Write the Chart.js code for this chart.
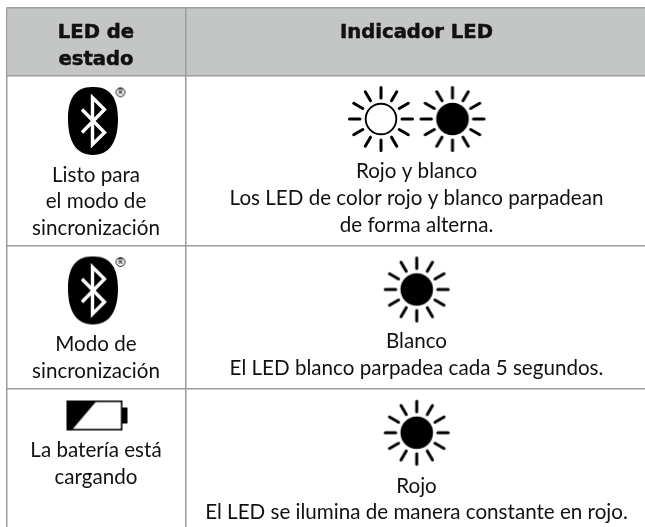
<!DOCTYPE html>
<html>
<head>
<meta charset="utf-8">
<title>LED de estado</title>
<style>
  body { margin: 0; background: #fff; }
  canvas { display: block; }
</style>
<script src="https://cdn.jsdelivr.net/npm/chart.js@4"></script>
</head>
<body>
<canvas id="led-chart" width="645" height="527"></canvas>
<script>
// table borders
var columnEdges = [7.2, 185.7];
var rowEdges = [7.5, 75.5, 245.5, 389];
var tableRight = 645;
var tableBottom = 527;

// header + cell text
var headerLines = ["LED de", "estado", "Indicador LED"];
var headerX = [96, 96, 416.5];
var headerY = [38, 64.5, 37.5];

var bodyLines = [
  "Listo para", "el modo de", "sincronización",
  "Modo de", "sincronización",
  "La batería está", "cargando",
  "Rojo y blanco", "Los LED de color rojo y blanco parpadean", "de forma alterna.",
  "Blanco", "El LED blanco parpadea cada 5 segundos.",
  "Rojo", "El LED se ilumina de manera constante en rojo."
];
var bodyX = [96, 96, 96, 96, 96, 96, 96, 416.5, 416.5, 416.5, 416.5, 416.5, 416.5, 416.5];
var bodyY = [181.5, 208, 235, 350.5, 377.5, 457, 484, 178, 205, 231.5, 348, 375, 492.5, 518.5];

// icons in the cells
var bluetoothPoints = [{ x: 93, y: 121 }, { x: 93, y: 290.5 }];
var registeredPoints = [{ x: 120.5, y: 92.3 }, { x: 120.5, y: 262 }];
var batteryPoints = [{ x: 96.5, y: 415.5 }];
var hollowSunPoints = [{ x: 381, y: 119 }];
var filledSunPoints = [{ x: 452.5, y: 119 }, { x: 416.7, y: 289.5 }, { x: 416.7, y: 432.7 }];

var HEADER_FONT = "700 19.6px 'DejaVu Sans'";
var BODY_FONT = "400 20.6px Lato";
var GRID_COLOR = "#9b9d9c";
var HEADER_COLOR = "#c4c6c5";
var INK = "#111111";

function makeCanvas(w, h) {
  var c = document.createElement("canvas");
  c.width = w;
  c.height = h;
  return c;
}

// sun with 12 rays, filled or only the ring
function makeSun(filled) {
  var c = makeCanvas(70, 70);
  var ctx = c.getContext("2d");
  ctx.translate(35, 35);
  ctx.strokeStyle = "#000";
  ctx.fillStyle = "#000";
  ctx.lineWidth = 3;
  ctx.lineCap = "round";
  for (var i = 0; i < 12; i++) {
    var a = i * Math.PI / 6;
    ctx.beginPath();
    ctx.moveTo(Math.cos(a) * 21, Math.sin(a) * 21);
    ctx.lineTo(Math.cos(a) * 31.5, Math.sin(a) * 31.5);
    ctx.stroke();
  }
  ctx.beginPath();
  if (filled) {
    ctx.arc(0, 0, 16.3, 0, Math.PI * 2);
    ctx.fill();
  } else {
    ctx.lineWidth = 1.9;
    ctx.arc(0, 0, 15.3, 0, Math.PI * 2);
    ctx.stroke();
  }
  return c;
}

// black egg with the white rune
function makeBluetooth() {
  var c = makeCanvas(56, 74);
  var ctx = c.getContext("2d");
  ctx.translate(28, 37);
  ctx.fillStyle = "#000";
  ctx.beginPath();
  ctx.moveTo(0, -34);
  ctx.bezierCurveTo(18, -34.5, 25, -22, 25, -2);
  ctx.bezierCurveTo(25, 20, 17, 34, 0, 34);
  ctx.bezierCurveTo(-17, 34, -25, 20, -25, -2);
  ctx.bezierCurveTo(-25, -22, -18, -34.5, 0, -34);
  ctx.fill();
  ctx.strokeStyle = "#fff";
  ctx.lineWidth = 3.4;
  ctx.lineJoin = "miter";
  ctx.beginPath();
  ctx.moveTo(-11, -11.5);
  ctx.lineTo(11.5, 11.5);
  ctx.lineTo(-0.5, 23.5);
  ctx.lineTo(-0.5, -23.5);
  ctx.lineTo(11.5, -11.5);
  ctx.lineTo(-11, 11.5);
  ctx.stroke();
  return c;
}

function makeBattery() {
  var c = makeCanvas(66, 34);
  var ctx = c.getContext("2d");
  ctx.fillStyle = "#000";
  ctx.strokeStyle = "#000";
  ctx.lineWidth = 1.6;
  ctx.strokeRect(3.8, 2.8, 54.4, 28.4);
  ctx.fillRect(58, 9, 6, 16);
  ctx.beginPath();
  ctx.moveTo(3, 2);
  ctx.lineTo(33.5, 2);
  ctx.lineTo(8, 32);
  ctx.lineTo(3, 32);
  ctx.closePath();
  ctx.fill();
  return c;
}

function makeRegistered() {
  var c = makeCanvas(14, 14);
  var ctx = c.getContext("2d");
  ctx.strokeStyle = "#000";
  ctx.lineWidth = 0.9;
  ctx.beginPath();
  ctx.arc(7, 7, 4.4, 0, Math.PI * 2);
  ctx.stroke();
  ctx.fillStyle = "#000";
  ctx.font = "bold 6.5px Lato";
  ctx.textAlign = "center";
  ctx.textBaseline = "middle";
  ctx.fillText("R", 7, 7.2);
  return c;
}

function pointSet(points, image) {
  return {
    type: "scatter",
    data: points,
    pointStyle: image,
    pointRadius: 10,
    borderWidth: 0,
    clip: false,
    order: 1
  };
}

// cell text goes on top, placed through the scales
var cellText = {
  id: "cellText",
  afterDatasetsDraw: function(chart) {
    var ctx = chart.ctx;
    var xs = chart.scales.x;
    var ys = chart.scales.y;
    ctx.save();
    ctx.textAlign = "center";
    ctx.textBaseline = "alphabetic";
    ctx.fillStyle = INK;
    ctx.strokeStyle = INK;
    ctx.lineWidth = 0.5;
    ctx.font = HEADER_FONT;
    headerLines.forEach(function(line, i) {
      var px = xs.getPixelForValue(headerX[i]);
      var py = ys.getPixelForValue(headerY[i]);
      ctx.fillText(line, px, py);
      // the header is heavier than the bold cut
      ctx.strokeText(line, px, py);
    });
    ctx.font = BODY_FONT;
    bodyLines.forEach(function(line, i) {
      ctx.fillText(line, xs.getPixelForValue(bodyX[i]), ys.getPixelForValue(bodyY[i]));
    });
    ctx.restore();
  }
};

new Chart(document.getElementById("led-chart"), {
  type: "line",
  data: {
    datasets: [
      // grey header band
      {
        data: [{ x: columnEdges[0], y: rowEdges[1] }, { x: tableRight, y: rowEdges[1] }],
        borderWidth: 0,
        pointRadius: 0,
        backgroundColor: HEADER_COLOR,
        fill: { value: rowEdges[0] },
        order: 2
      },
      pointSet(bluetoothPoints, makeBluetooth()),
      pointSet(registeredPoints, makeRegistered()),
      pointSet(batteryPoints, makeBattery()),
      pointSet(hollowSunPoints, makeSun(false)),
      pointSet(filledSunPoints, makeSun(true))
    ]
  },
  options: {
    responsive: false,
    animation: false,
    events: [],
    // the scales start at the table corner, so the grid stops there
    layout: { padding: { left: columnEdges[0], top: rowEdges[0] }, autoPadding: false },
    plugins: { legend: { display: false }, tooltip: { enabled: false } },
    scales: {
      x: {
        type: "linear",
        min: columnEdges[0],
        max: tableRight,
        afterBuildTicks: function(axis) {
          axis.ticks = columnEdges.map(function(v) { return { value: v }; });
        },
        ticks: { display: false },
        border: { display: false },
        grid: { color: GRID_COLOR, lineWidth: 1.5, drawTicks: false, z: 1 }
      },
      y: {
        type: "linear",
        reverse: true,
        min: rowEdges[0],
        max: tableBottom,
        afterBuildTicks: function(axis) {
          axis.ticks = rowEdges.map(function(v) { return { value: v }; });
        },
        ticks: { display: false },
        border: { display: false },
        grid: { color: GRID_COLOR, lineWidth: 1.5, drawTicks: false, z: 1 }
      }
    }
  },
  plugins: [cellText]
});
</script>
</body>
</html>
